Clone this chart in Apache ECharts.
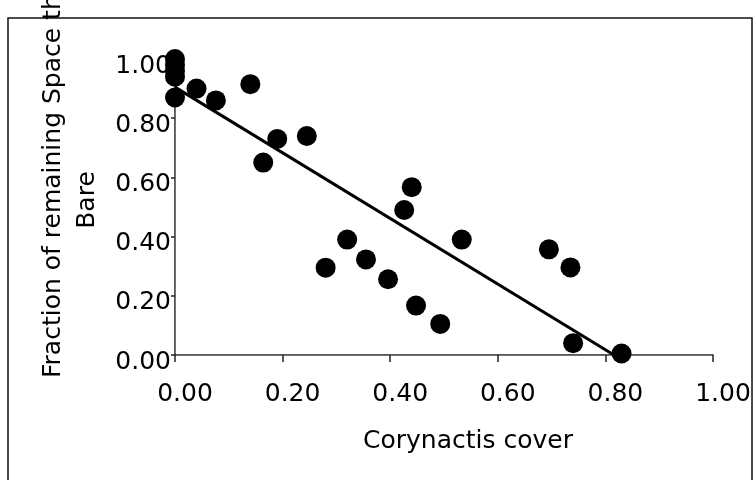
<!DOCTYPE html>
<html>
<head>
<meta charset="utf-8">
<title>Corynactis cover</title>
<script src="https://cdn.jsdelivr.net/npm/echarts@6/dist/echarts.min.js"></script>
<style>
    html, body {
        margin: 0;
        padding: 0;
        background: #fff;
    }
    #chart {
        width: 754px;
        height: 480px;
    }
</style>
</head>
<body>
<div id="chart"></div>
<script>
// corynactis cover vs fraction bare
const coverX = [0, 0, 0, 0, 0, 0.04, 0.076, 0.14, 0.164, 0.19, 0.245, 0.28, 0.32, 0.355, 0.396, 0.426, 0.44, 0.448, 0.493, 0.533, 0.695, 0.735, 0.74, 0.83];
const bareY = [1.00, 0.98, 0.96, 0.94, 0.87, 0.90, 0.86, 0.915, 0.65, 0.73, 0.74, 0.295, 0.39, 0.323, 0.256, 0.49, 0.567, 0.167, 0.105, 0.39, 0.357, 0.296, 0.04, 0.005];
// fitted line end points
const fitX = [0, 0.816];
const fitY = [0.905, 0];
const tickLabels = ['0.00', '0.20', '0.40', '0.60', '0.80', '1.00'];

const font = 'DejaVu Sans';
const chart = echarts.init(document.getElementById('chart'));

const points = coverX.map((x, i) => [x, bareY[i]]);
const fit = fitX.map((x, i) => [x, fitY[i]]);

function tickText(v) {
    return tickLabels[Math.round(v / 0.2)];
}

chart.setOption({
    backgroundColor: '#fff',
    animation: false,
    grid: {
        left: 175,
        top: 59,
        right: 41,
        bottom: 125
    },
    xAxis: [
        {
            type: 'value',
            min: 0,
            max: 1,
            interval: 0.2,
            axisLine: { lineStyle: { color: '#222', width: 1.5 } },
            axisTick: { length: 7, lineStyle: { color: '#222', width: 1.5 } },
            splitLine: { show: false },
            axisLabel: {
                formatter: tickText,
                color: '#000',
                fontFamily: font,
                fontSize: 25,
                margin: 27,
                padding: [0, 0, 0, 20]
            }
        },
        {
            type: 'value',
            position: 'top',
            min: 0,
            max: 1,
            axisLine: { show: true, lineStyle: { color: '#777', width: 1, type: 'dotted' } },
            axisTick: { show: false },
            axisLabel: { show: false },
            splitLine: { show: false }
        }
    ],
    yAxis: [
        {
            type: 'value',
            min: 0,
            max: 1,
            interval: 0.2,
            axisLine: { show: true, lineStyle: { color: '#222', width: 1.5 } },
            axisTick: { show: true, length: 4, lineStyle: { color: '#222', width: 1.5 } },
            splitLine: { show: false },
            axisLabel: {
                formatter: tickText,
                color: '#000',
                fontFamily: font,
                fontSize: 25,
                margin: 4,
                verticalAlign: 'top',
                lineHeight: 14
            }
        },
        {
            type: 'value',
            position: 'right',
            min: 0,
            max: 1,
            axisLine: { show: true, lineStyle: { color: '#777', width: 1, type: 'dotted' } },
            axisTick: { show: false },
            axisLabel: { show: false },
            splitLine: { show: false }
        }
    ],
    graphic: [
        {
            type: 'rect',
            shape: { x: 8, y: 18, width: 744, height: 480 },
            style: { fill: 'none', stroke: '#111', lineWidth: 1.5 },
            z: -1
        },
        {
            type: 'text',
            x: 53,
            y: 378,
            rotation: Math.PI / 2,
            style: {
                text: 'Fraction of remaining Space that is',
                font: '25px "DejaVu Sans"',
                fill: '#000',
                align: 'left',
                verticalAlign: 'middle'
            }
        },
        {
            type: 'text',
            x: 87,
            y: 200,
            rotation: Math.PI / 2,
            style: {
                text: 'Bare',
                font: '25px "DejaVu Sans"',
                fill: '#000',
                align: 'center',
                verticalAlign: 'middle'
            }
        },
        {
            type: 'text',
            x: 468,
            y: 441,
            style: {
                text: 'Corynactis cover',
                font: '25px "DejaVu Sans"',
                fill: '#000',
                align: 'center',
                verticalAlign: 'middle'
            }
        }
    ],
    series: [
        {
            type: 'line',
            data: fit,
            showSymbol: false,
            lineStyle: { color: '#000', width: 3 },
            z: 3
        },
        {
            type: 'scatter',
            data: points,
            symbol: 'circle',
            symbolSize: 20,
            clip: false,
            itemStyle: { color: '#000', opacity: 1 },
            z: 4
        }
    ]
});
</script>
</body>
</html>
